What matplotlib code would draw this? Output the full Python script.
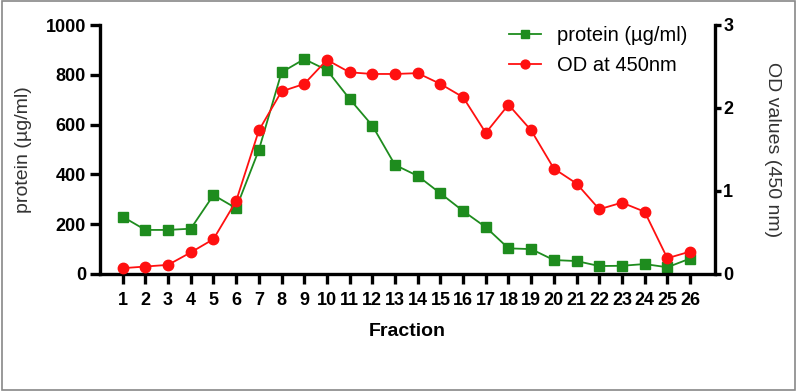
import matplotlib
matplotlib.use("Agg")
import matplotlib.pyplot as plt

plt.rcParams['font.family'] = ['Liberation Sans', 'DejaVu Sans']

fractions = list(range(1, 27))
protein = [230, 177, 177, 182, 317, 264, 498, 810, 863, 819, 703, 596, 438,
           394, 324, 253, 188, 103, 100, 56, 52, 32, 33, 40, 27, 62]
od450 = [0.07, 0.09, 0.11, 0.26, 0.42, 0.88, 1.73, 2.20, 2.29, 2.58, 2.43, 2.41, 2.41,
         2.42, 2.29, 2.13, 1.70, 2.04, 1.73, 1.27, 1.09, 0.78, 0.86, 0.75, 0.19, 0.27]

green = '#1e8c1e'
red = '#ff1010'

fig = plt.figure(figsize=(7.97, 3.91), dpi=100)
ax = fig.add_axes([100 / 797, 1 - 274 / 391, 615 / 797, 249 / 391])
ax2 = ax.twinx()

l1, = ax.plot(fractions, protein, color=green, marker='s', markersize=7.5, lw=1.3,
              label='protein (µg/ml)')
l2, = ax2.plot(fractions, od450, color=red, marker='o', markersize=7.5, lw=1.3,
               label='OD at 450nm')

ax.set_xlim(0, 27.1)
ax.set_ylim(0, 1000)
ax2.set_ylim(0, 3)
ax.set_xticks(fractions)
ax.set_yticks([0, 200, 400, 600, 800, 1000])
ax2.set_yticks([0, 1, 2, 3])

for a in (ax, ax2):
    a.spines['top'].set_visible(False)
    for s in a.spines.values():
        s.set_linewidth(2.4)
    for lbl in a.get_xticklabels() + a.get_yticklabels():
        lbl.set_fontweight('bold')
ax.spines['right'].set_visible(False)
ax2.spines['left'].set_visible(False)
ax2.spines['bottom'].set_visible(False)
ax.tick_params(width=2.4, length=7, labelsize=13, pad=3)
ax.tick_params(axis='x', labelsize=13, pad=6)
ax2.tick_params(width=2.4, length=4, labelsize=13, pad=2)

ax.set_xlabel('Fraction', fontsize=14, fontweight='bold', labelpad=10)
ax.set_ylabel('protein (µg/ml)', fontsize=14, color='#333333', labelpad=10)
ax2.set_ylabel('OD values (450 nm)', fontsize=14, rotation=270, labelpad=34, color='#333333')

ax2.legend([l1, l2], [l1.get_label(), l2.get_label()], loc='upper right',
           bbox_to_anchor=(0.985, 1.07), frameon=False, fontsize=14.5, handlelength=1.6,
           labelspacing=0.55, markerscale=0.85, handletextpad=0.8)

border = plt.Rectangle((0.002, 0.003), 0.995, 0.994, transform=fig.transFigure,
                       fill=False, edgecolor='#888888', lw=1.2)
fig.patches.append(border)

fig.savefig('out.png', dpi=100)
